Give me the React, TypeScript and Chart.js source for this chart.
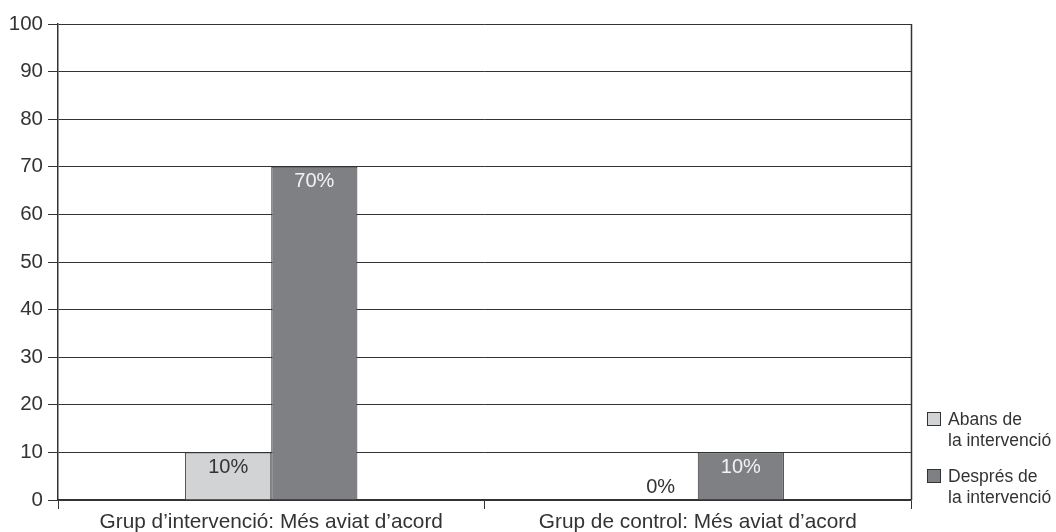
import React, { useEffect, useRef } from "react";
import { Chart, registerables } from "chart.js";

Chart.register(...registerables);

const categories = [
  "Grup d\u2019intervenció: Més aviat d\u2019acord",
  "Grup de control: Més aviat d\u2019acord",
];
const seriesNames = ["Abans de la intervenció", "Després de la intervenció"];
const legendLines = [
  ["Abans de", "la intervenció"],
  ["Després de", "la intervenció"],
];
const abansValues = [10, 0];
const despresValues = [70, 10];
const yTicks = [0, 10, 20, 30, 40, 50, 60, 70, 80, 90, 100];

const FONT = "'Liberation Sans', Arial, sans-serif";
const TEXT = "#333333";
const LIGHT = "#d2d3d5";
const DARK = "#7f8083";
const LABEL_COLORS = ["#333333", "#f2f2f2"];

const valueLabels = {
  id: "valueLabels",
  afterDatasetsDraw(chart: any) {
    const ctx = chart.ctx;
    ctx.save();
    ctx.font = `20px ${FONT}`;
    ctx.textAlign = "center";
    ctx.textBaseline = "middle";
    chart.data.datasets.forEach((ds: any, di: number) => {
      const meta = chart.getDatasetMeta(di);
      meta.data.forEach((bar: any, i: number) => {
        const v = ds.data[i];
        let y: number;
        let x = bar.x;
        if (v === 0) {
          ctx.fillStyle = TEXT;
          y = bar.base - 13;
          x = bar.x + 6;
        } else {
          ctx.fillStyle = LABEL_COLORS[di];
          y = bar.y + 15;
        }
        ctx.fillText(`${v}%`, x, y);
      });
    });
    ctx.restore();
  },
};

const rightBorder = {
  id: "rightBorder",
  afterDraw(chart: any) {
    const { ctx, chartArea } = chart;
    ctx.save();
    ctx.strokeStyle = "#333333";
    ctx.lineWidth = 1.5;
    ctx.beginPath();
    ctx.moveTo(Math.round(chartArea.right) + 0.5, chartArea.top);
    ctx.lineTo(Math.round(chartArea.right) + 0.5, chartArea.bottom);
    ctx.stroke();
    ctx.restore();
  },
};

export default function App() {
  const ref = useRef<HTMLCanvasElement | null>(null);
  useEffect(() => {
    if (!ref.current) return;
    const chart = new Chart(ref.current, {
      type: "bar",
      data: {
        labels: categories,
        datasets: [
          {
            label: seriesNames[0],
            data: abansValues,
            backgroundColor: LIGHT,
            borderColor: "#333333",
            borderWidth: 1,
            barPercentage: 1,
            categoryPercentage: 0.404,
          },
          {
            label: seriesNames[1],
            data: despresValues,
            backgroundColor: DARK,
            borderColor: "#333333",
            borderWidth: 1,
            barPercentage: 1,
            categoryPercentage: 0.404,
          },
        ],
      },
      options: {
        responsive: false,
        animation: false,
        layout: { padding: { left: 0, right: 145, top: 24, bottom: 0 } },
        plugins: {
          legend: { display: false },
          tooltip: { enabled: false },
        },
        scales: {
          x: {
            offset: true,
            grid: {
              offset: true,
              drawOnChartArea: false,
              drawTicks: true,
              tickLength: 9,
              color: "#333333",
              lineWidth: 1,
            },
            border: { color: "#333333", width: 1.5 },
            ticks: {
              color: TEXT,
              font: { family: FONT, size: 20.8 },
              padding: 1,
              maxRotation: 0,
              autoSkip: false,
            },
            afterFit(scale: any) {
              scale.height = 32;
            },
          },
          y: {
            min: 0,
            max: 100,
            afterBuildTicks(scale: any) {
              scale.ticks = yTicks.map((v) => ({ value: v }));
            },
            grid: {
              color: "#333333",
              lineWidth: 1,
              drawTicks: true,
              tickLength: 10,
            },
            border: { color: "#333333", width: 1.5 },
            ticks: {
              color: TEXT,
              font: { family: FONT, size: 20.5 },
              padding: 5,
            },
            afterFit(scale: any) {
              scale.width = 58;
            },
          },
        },
      },
      plugins: [valueLabels, rightBorder],
    });
    return () => chart.destroy();
  }, []);

  const colors = [LIGHT, DARK];
  const tops = [409, 466];
  return (
    <div style={{ position: "fixed", left: 0, top: 0, width: 1056, height: 532, background: "#fff" }}>
      <canvas ref={ref} width={1056} height={532} style={{ display: "block" }} />
      {legendLines.map((lines, i) => (
        <div
          key={i}
          style={{
            position: "absolute",
            left: 927,
            top: tops[i],
            fontFamily: FONT,
            fontSize: 17.5,
            lineHeight: "21px",
            color: TEXT,
          }}
        >
          <span
            style={{
              position: "absolute",
              left: 0,
              top: 3,
              width: 12,
              height: 12,
              background: colors[i],
              border: "1px solid #333",
            }}
          />
          <div style={{ marginLeft: 21, whiteSpace: "nowrap" }}>
            {lines.map((l, j) => (
              <div key={j}>{l}</div>
            ))}
          </div>
        </div>
      ))}
    </div>
  );
}
